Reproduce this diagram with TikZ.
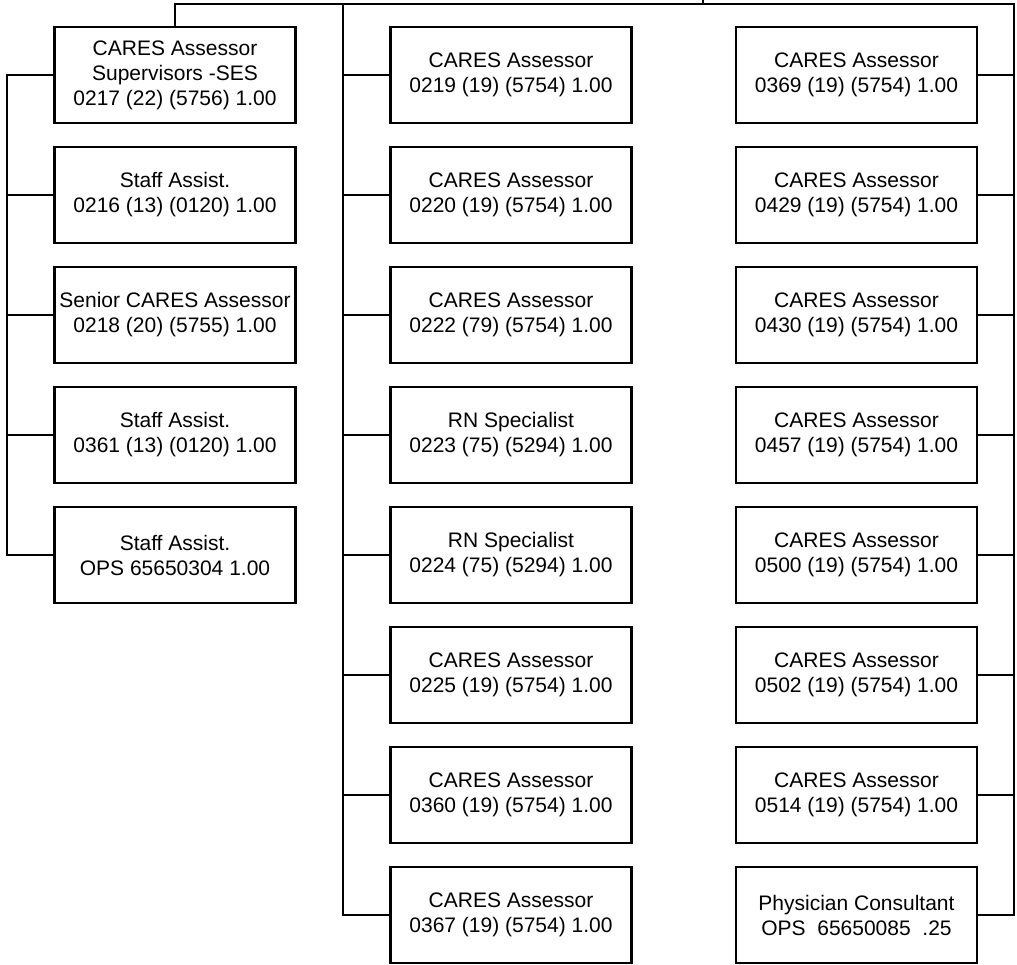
\documentclass[tikz,border=0pt]{standalone}
\usepackage{fontspec}
\setmainfont{Liberation Sans}
\begin{document}
\begin{tikzpicture}[x=1pt,y=-1pt,
  box/.style={draw, line width=2.6pt, minimum width=241pt, minimum height=96pt,
    align=center, inner sep=0pt, font=\fontsize{21}{25}\selectfont},
  wire/.style={line width=2.6pt, line cap=rect}]
\useasboundingbox (0,0) rectangle (1017,965);

% left column
\node[box] (L1) at (175,75)  {CARES Assessor\\Supervisors -SES\\0217 (22) (5756) 1.00};
\node[box] (L2) at (175,195) {Staff Assist.\\0216 (13) (0120) 1.00};
\node[box] (L3) at (175,315) {Senior CARES Assessor\\0218 (20) (5755) 1.00};
\node[box] (L4) at (175,435) {Staff Assist.\\0361 (13) (0120) 1.00};
\node[box] (L5) at (175,555) {Staff Assist.\\OPS 65650304 1.00};

% middle column
\node[box] (M1) at (511,75)  {CARES Assessor\\0219 (19) (5754) 1.00};
\node[box] (M2) at (511,195) {CARES Assessor\\0220 (19) (5754) 1.00};
\node[box] (M3) at (511,315) {CARES Assessor\\0222 (79) (5754) 1.00};
\node[box] (M4) at (511,435) {RN Specialist\\0223 (75) (5294) 1.00};
\node[box] (M5) at (511,555) {RN Specialist\\0224 (75) (5294) 1.00};
\node[box] (M6) at (511,675) {CARES Assessor\\0225 (19) (5754) 1.00};
\node[box] (M7) at (511,795) {CARES Assessor\\0360 (19) (5754) 1.00};
\node[box] (M8) at (511,915) {CARES Assessor\\0367 (19) (5754) 1.00};

% right column
\node[box] (R1) at (856.5,75)  {CARES Assessor\\0369 (19) (5754) 1.00};
\node[box] (R2) at (856.5,195) {CARES Assessor\\0429 (19) (5754) 1.00};
\node[box] (R3) at (856.5,315) {CARES Assessor\\0430 (19) (5754) 1.00};
\node[box] (R4) at (856.5,435) {CARES Assessor\\0457 (19) (5754) 1.00};
\node[box] (R5) at (856.5,555) {CARES Assessor\\0500 (19) (5754) 1.00};
\node[box] (R6) at (856.5,675) {CARES Assessor\\0502 (19) (5754) 1.00};
\node[box] (R7) at (856.5,795) {CARES Assessor\\0514 (19) (5754) 1.00};
\node[box] (R8) at (856.5,915) {Physician Consultant\\OPS\ \ 65650085\ \ .25};

% bus coordinates
\coordinate (root) at (703,0);
\coordinate (tl) at (175,4);
\coordinate (tr) at (1014,4);
\coordinate (lb) at (7,0);
\coordinate (mb) at (343,0);

% top line
\draw[wire] (L1.north) -- (tl) -- (tr);
\draw[wire] (root) -- (root |- tl);

% left bus
\draw[wire] (L1.west) -- (L1.west -| lb) -- (L5.west -| lb) -- (L5.west);
\foreach \i in {2,3,4} \draw[wire] (L\i.west) -- (L\i.west -| lb);

% middle bus
\draw[wire] (tl -| mb) -- (M8.west -| mb) -- (M8.west);
\foreach \i in {1,...,7} \draw[wire] (M\i.west) -- (M\i.west -| mb);

% right bus
\draw[wire] (tr) -- (R8.east -| tr) -- (R8.east);
\foreach \i in {1,...,7} \draw[wire] (R\i.east) -- (R\i.east -| tr);
\end{tikzpicture}
\end{document}
